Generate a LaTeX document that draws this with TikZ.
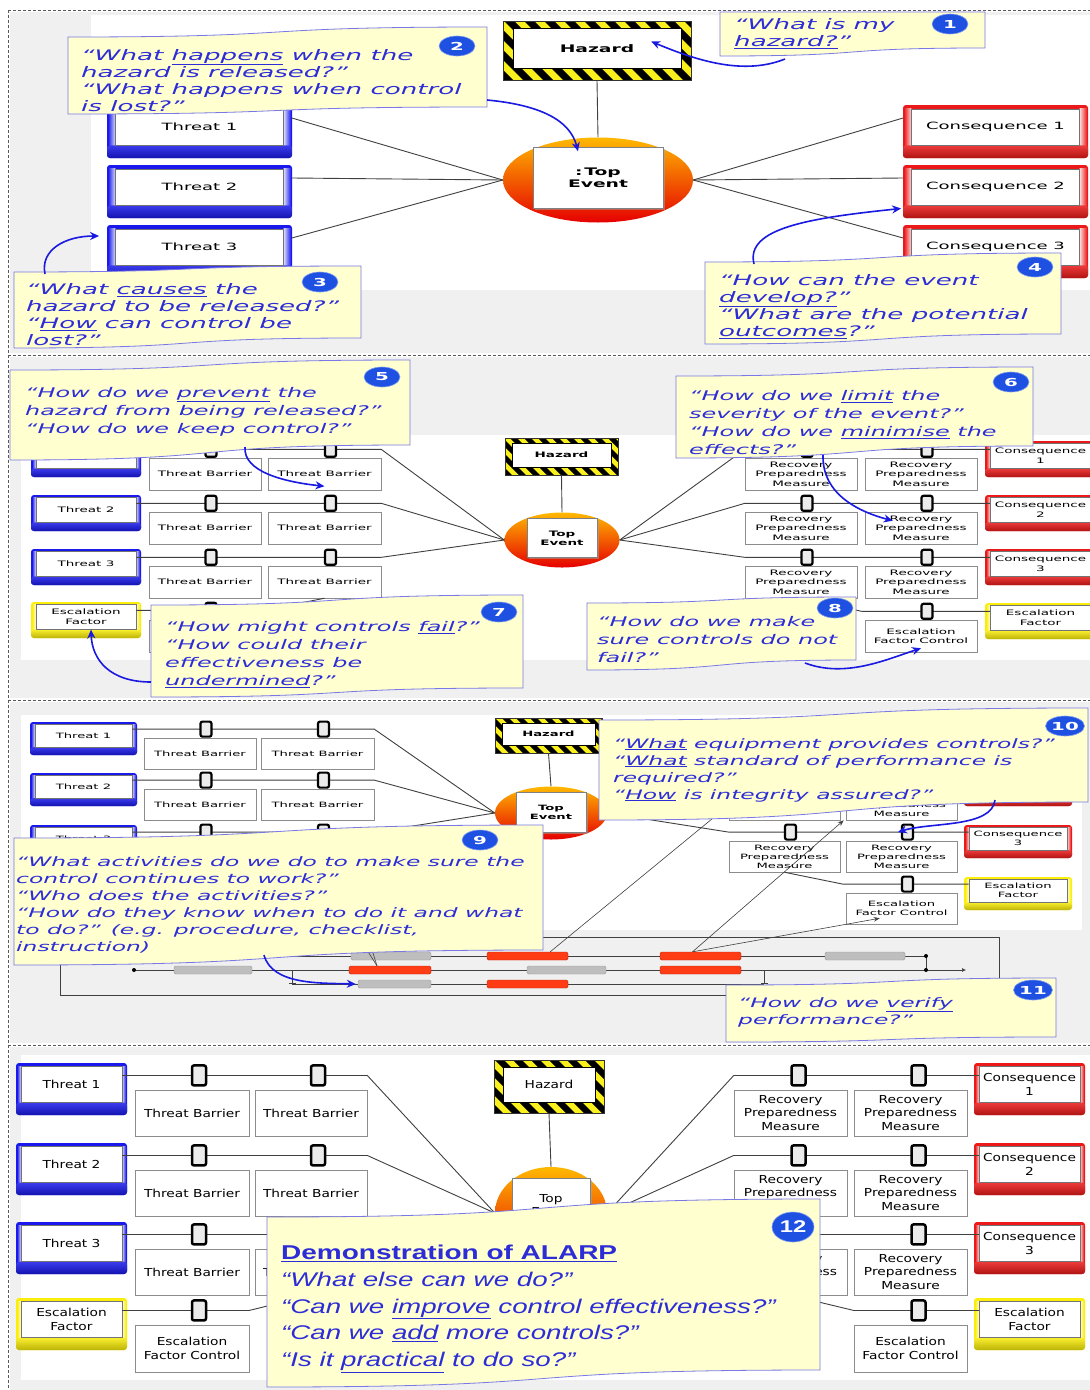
\documentclass[tikz,border=0pt]{standalone}
\usepackage{fontspec}
\usepackage{tikz}
\usetikzlibrary{shapes.geometric,shadows,arrows.meta,calc}
\newfontfamily\widesans[FakeStretch=1.8]{DejaVu Sans}
\newfontfamily\midsans[FakeStretch=1.25]{DejaVu Sans}
\newfontfamily\arialwide[FakeStretch=1.4]{Liberation Sans}

\definecolor{threatblue}{RGB}{25,25,235}
\definecolor{consred}{RGB}{235,25,25}
\definecolor{escyellow}{RGB}{250,238,10}
\definecolor{hazyellow}{RGB}{250,240,30}
\definecolor{notefill}{RGB}{255,255,208}
\definecolor{noteedge}{RGB}{120,120,230}
\definecolor{notetext}{RGB}{45,45,215}
\definecolor{numblue}{RGB}{30,80,225}
\definecolor{arrowblue}{RGB}{25,25,225}
\definecolor{panelgrey}{RGB}{240,240,240}
\definecolor{barred}{RGB}{255,60,20}
\definecolor{bargrey}{RGB}{190,190,190}

\tikzset{
  lbl/.style={font=\widesans\fontsize{7.5}{9.5}\selectfont},
  hazlbl/.style={font=\widesans\bfseries\fontsize{7.5}{9}\selectfont},
  link/.style={draw=black!75, line width=0.9pt},
  thinlink/.style={draw=black!75, line width=0.6pt},
  sepline/.style={draw=black!65, line width=0.8pt, dash pattern=on 3pt off 2pt},
  riskface/.style={draw=black!55, line width=0.4pt, fill=white, inner sep=0pt, align=center, lbl},
  barrierbox/.style={draw=black!45, line width=0.5pt, fill=white, inner sep=0pt, align=center, lbl,
    drop shadow={shadow xshift=1.2pt, shadow yshift=-1.2pt, fill=black!30}},
  hazface/.style={draw=black, line width=0.5pt, fill=white, inner sep=0pt, align=center, hazlbl},
  topring/.style={ellipse, inner sep=0pt, top color=orange!55!yellow, middle color=orange!85!red, bottom color=red!90!black},
  topface/.style={draw=black!50, fill=white, inner sep=0pt, align=center, hazlbl,
    drop shadow={shadow xshift=1.5pt, shadow yshift=-1.5pt, fill=black!35}},
  clipnode/.style={draw=black, line width=2.2pt, fill=black!8, rounded corners=2pt, inner sep=0pt},
  notebox/.style={fill=notefill, draw=noteedge, line width=0.8pt},
  notetxt/.style={text=notetext, align=left, inner sep=0pt, anchor=north west},
  p1font/.style={font=\widesans\itshape\fontsize{14.5}{17}\selectfont},
  p2font/.style={font=\widesans\itshape\fontsize{13.3}{18}\selectfont},
  p3font/.style={font=\widesans\itshape\fontsize{13}{17}\selectfont},
  p4font/.style={font=\arialwide\itshape\fontsize{19.8}{26.7}\selectfont},
  badge/.style={ellipse, fill=numblue, draw=numblue!55!white, line width=0.6pt, text=white, inner sep=0pt,
    minimum width=36pt, minimum height=20pt, font=\widesans\bfseries\fontsize{11}{11}\selectfont},
  notearrow/.style={draw=arrowblue, line width=1.6pt, -{Stealth[length=9pt,width=8pt]}},
  redbar/.style={fill=barred, draw=barred!70!black, line width=0.4pt, rounded corners=1.5pt, minimum height=8pt, inner sep=0pt},
  greybar/.style={fill=bargrey, draw=black!40, line width=0.4pt, rounded corners=1.5pt, minimum height=8pt, inner sep=0pt},
}

% coloured frame (threat, consequence, escalation factor): name, colour, x1, y1, x2, y2, label
\newcommand{\riskbox}[7]{%
  \pgfmathsetmacro\rbs{0.045*((#5)-(#3))}%
  \pgfmathsetmacro\rbt{0.07*((#6)-(#4))}%
  \pgfmathsetmacro\rbb{0.24*((#6)-(#4))}%
  \pgfmathsetmacro\rbw{(#5)-(#3)-2*\rbs}%
  \pgfmathsetmacro\rbh{(#6)-(#4)-\rbt-\rbb}%
  \pgfmathsetmacro\rbx{((#3)+(#5))/2}%
  \pgfmathsetmacro\rby{(#4)+\rbt+\rbh/2}%
  \fill[#2, rounded corners=3pt] (#3,#4) rectangle (#5,#6);
  \shade[left color=#2, right color=#2!15!white] (#3+1,#4+\rbt) rectangle (#3+\rbs,#6-\rbb);
  \shade[left color=#2!15!white, right color=#2] (#5-\rbs,#4+\rbt) rectangle (#5-1,#6-\rbb);
  \shade[top color=#2!85!white, bottom color=#2!75!black, rounded corners=3pt] (#3,#6-\rbb) rectangle (#5,#6);
  \node[riskface, minimum width=\rbw pt, minimum height=\rbh pt] (#1) at (\rbx,\rby) {#7};
}

% striped hazard box: name, x1, y1, x2, y2, border, label
\newcommand{\hazardbox}[7]{%
  \pgfmathtruncatemacro\hza{(#2)-((#5)-(#3))-2*(#6)}%
  \pgfmathtruncatemacro\hzb{\hza+2*(#6)}%
  \pgfmathtruncatemacro\hzc{#4}%
  \fill[hazyellow] (#2,#3) rectangle (#4,#5);
  \begin{scope}
    \clip (#2,#3) rectangle (#4,#5);
    \foreach \s in {\hza,\hzb,...,\hzc}
      \fill[black] (\s,#3) -- ++(#6,0) -- ++(#5-#3,#5-#3) -- ++(-#6,0) -- cycle;
  \end{scope}
  \draw[black!80, line width=0.4pt] (#2,#3) rectangle (#4,#5);
  \pgfmathsetmacro\hzw{(#4)-(#2)-2*(#6)}%
  \pgfmathsetmacro\hzh{(#5)-(#3)-1.9*(#6)}%
  \node[hazface, minimum width=\hzw pt, minimum height=\hzh pt] (#1) at ({((#2)+(#4))/2},{(#3)+0.75*(#6)+\hzh/2}) {#7};
}

% top event: name, cx, cy, ring w, ring h, face w, face h, face dy, label
\newcommand{\topevent}[9]{%
  \node[topring, minimum width=#4pt, minimum height=#5pt] (#1-ring) at (#2,#3) {};
  \node[topface, minimum width=#6pt, minimum height=#7pt] (#1) at (#2,#3+#8) {#9};
}

% barrier box: name, x1, y1, x2, y2, label
\newcommand{\barrier}[6]{%
  \pgfmathsetmacro\bxw{(#4)-(#2)}\pgfmathsetmacro\bxh{(#5)-(#3)}%
  \node[barrierbox, minimum width=\bxw pt, minimum height=\bxh pt] (#1) at ({((#2)+(#4))/2},{((#3)+(#5))/2}) {#6};
}

% callout: x1, x2, top-left y, top-right y, bottom-right y, bottom-left y
\newcommand{\notecloud}[6]{%
  \pgfmathsetmacro\nxa{#1+0.4*(#2-#1)}%
  \pgfmathsetmacro\nxb{#1+0.6*(#2-#1)}%
  \filldraw[notebox] (#1,#3) .. controls (\nxb,#3) and (\nxa,#4) .. (#2,#4) -- (#2,#5)
    .. controls (\nxa,#5) and (\nxb,#6) .. (#1,#6) -- cycle;
}

\begin{document}
\begin{tikzpicture}[x=1pt, y=-1pt]
\useasboundingbox (0,0) rectangle (1090,1390);

% panel backgrounds
\fill[panelgrey] (10,12) rectangle (1090,353);
\fill[white] (91,15) rectangle (1090,290);
\fill[panelgrey] (10,357) rectangle (1090,698);
\fill[white] (21,435) rectangle (1090,660);
\fill[panelgrey] (10,702) rectangle (1090,1043);
\fill[white] (21,715) rectangle (1082,930);
\fill[panelgrey] (10,1047) rectangle (1090,1390);
\fill[white] (21,1055) rectangle (1090,1380);
\draw[sepline] (8,10) -- (1090,10);
\draw[sepline] (8,355) -- (1090,355);
\draw[sepline] (8,700) -- (1090,700);
\draw[sepline] (8,1045) -- (1090,1045);
\draw[sepline] (8,10) -- (8,1390);

% ---------------- panel 1 ----------------
\begin{scope}[lbl/.style={font=\widesans\fontsize{10}{12}\selectfont},
              hazlbl/.style={font=\widesans\bfseries\fontsize{10.4}{12}\selectfont}]
\foreach \k/\ty in {1/105, 2/165, 3/225} {
  \riskbox{p1t\k}{threatblue}{107}{\ty}{292}{\ty+53}{Threat \k}
  \riskbox{p1c\k}{consred}{903}{\ty}{1088}{\ty+53}{Consequence \k}
}
\hazardbox{p1haz}{503}{21}{691}{80}{10}{Hazard}
\topevent{p1top}{598}{180}{190}{85}{130}{61}{-2}{:\,Top\\Event}
\draw[link] ([yshift=-12pt]p1haz.south) -- (p1top-ring.north);
\foreach \k in {1,2,3} {
  \draw[link] ([shift={(8pt,9pt)}]p1t\k.east) -- (p1top-ring.west);
  \draw[link] (p1top-ring.east) -- ([shift={(-8pt,9pt)}]p1c\k.west);
}

% callouts 1-4
\notecloud{720}{985}{12}{12}{48}{56}
\node[notetxt, p1font] (q1) at (734,18) {“What is my\\\underline{hazard?}”};
\node[badge] (b1) at (950,24) {1};
\coordinate (q1tail) at (785,59);
\draw[notearrow] (q1tail) .. controls (745,75) and (700,62) .. ([shift={(-30pt,7pt)}]p1haz.east);

\notecloud{68}{487}{37}{27}{107}{114}
\node[notetxt, p1font] (q2) at (81,49) {“What \underline{happens} when the\\hazard is released?”\\“What happens when control\\is lost?”};
\node[badge] (b2) at (457,46) {2};
\coordinate (q2tail) at (487,100);
\draw[notearrow] (q2tail) .. controls (540,105) and (570,120) .. ([shift={(-20pt,-4pt)}]p1top.north);

\notecloud{14}{361}{272}{266}{338}{348}
\node[notetxt, p1font] (q3) at (26,283) {“What \underline{causes} the\\hazard to be released?”\\“\underline{How} can control be\\lost?”};
\node[badge] (b3) at (320,282) {3};
\coordinate (q3tail) at (45,274);
\draw[notearrow] (q3tail) .. controls (40,250) and (65,236) .. ([shift={(-16pt,11pt)}]p1t3.west);

\notecloud{705}{1061}{262}{253}{334}{344}
\node[notetxt, p1font] (q4) at (719,274) {“How can the event\\\underline{develop?}”\\“What are the potential\\\underline{outcomes}?”};
\node[badge] (b4) at (1035,267) {4};
\coordinate (q4tail) at (754,264);
\draw[notearrow] (q4tail) .. controls (745,228) and (810,218) .. ([shift={(-10pt,-3pt)}]p1c2.south west);
\end{scope}

% ---------------- panel 2 ----------------
\begin{scope}[lbl/.style={font=\widesans\fontsize{7.5}{9.5}\selectfont},
              hazlbl/.style={font=\widesans\bfseries\fontsize{7.5}{9}\selectfont}]
\hazardbox{p2haz}{505}{438}{618}{475}{7}{Hazard}
\topevent{p2top}{562}{540}{115}{55}{70}{39}{-2}{Top\\Event}
\draw[link] ([yshift=-8pt]p2haz.south) -- (p2top-ring.north);
\foreach \k/\ty in {1/441, 2/495, 3/549} {
  \riskbox{p2t\k}{threatblue}{31}{\ty}{141}{\ty+36}{Threat \k}
  \riskbox{p2c\k}{consred}{985}{\ty}{1096}{\ty+36}{Consequence\\\k}
  \coordinate (p2l\k) at ([yshift=-6pt]p2t\k.north east);
  \coordinate (p2m\k) at ([yshift=-6pt]p2c\k.north west);
  \barrier{p2ba\k}{149}{\ty+17}{261}{\ty+49}{Threat Barrier}
  \barrier{p2bb\k}{268}{\ty+17}{381}{\ty+49}{Threat Barrier}
  \barrier{p2ra\k}{745}{\ty+17}{857}{\ty+49}{Recovery\\Preparedness\\Measure}
  \barrier{p2rb\k}{865}{\ty+17}{977}{\ty+49}{Recovery\\Preparedness\\Measure}
}
\riskbox{p2ef}{escyellow}{31}{602}{141}{638}{Escalation\\Factor}
\riskbox{p2eg}{escyellow}{985}{603}{1096}{639}{Escalation\\Factor}
\coordinate (p2le) at ([yshift=-6pt]p2ef.north east);
\coordinate (p2me) at ([yshift=-6pt]p2eg.north west);
\barrier{p2ea}{149}{620}{261}{652}{}% hidden behind callout 7
\barrier{p2eb}{865}{620}{977}{652}{Escalation\\Factor Control}

\foreach \k in {1,2,3} {
  \draw[link] (p2l\k) -- (p2l\k -| p2bb\k.east) -- (p2top-ring.west);
  \draw[link] (p2top-ring.east) -- (p2m\k -| p2ra\k.west) -- (p2m\k);
}
\draw[link] (p2le) -- ($(p2le -| p2ea.east)+(2,0)$) -- (p2bb3.south);
\draw[link] (p2me) -- ($(p2me -| p2eb.west)+(-3,0)$) -- (p2ra3.south);
\foreach \k in {1,2,3} {
  \node[clipnode, minimum width=11pt, minimum height=15pt] (p2ca\k) at ($(p2ba\k.north |- p2l\k)+(6,0)$) {};
  \node[clipnode, minimum width=11pt, minimum height=15pt] (p2cb\k) at ($(p2bb\k.north |- p2l\k)+(6,0)$) {};
  \node[clipnode, minimum width=11pt, minimum height=15pt] (p2cc\k) at ($(p2ra\k.north |- p2m\k)+(6,0)$) {};
  \node[clipnode, minimum width=11pt, minimum height=15pt] (p2cd\k) at ($(p2rb\k.north |- p2m\k)+(6,0)$) {};
}
\node[clipnode, minimum width=11pt, minimum height=15pt] (p2ce) at ($(p2ea.north |- p2le)+(6,0)$) {};
\node[clipnode, minimum width=11pt, minimum height=15pt] (p2cf) at ($(p2eb.north |- p2me)+(6,0)$) {};

% callouts 5-8
\notecloud{10}{410}{370}{360}{445}{460}
\node[notetxt, p2font] (q5) at (25,387) {“How do we \underline{prevent} the\\hazard from being released?”\\“How do we keep control?”};
\node[badge] (b5) at (382,377) {5};
\coordinate (q5tail) at (245,447);
\draw[notearrow] (q5tail) .. controls (243,472) and (285,482) .. ([yshift=4pt]p2bb1.south);

\notecloud{676}{1033}{376}{367}{446}{458}
\node[notetxt, p2font] (q6) at (689,390) {“How do we \underline{limit} the\\severity of the event?”\\“How do we \underline{minimise} the\\effects?”};
\node[badge] (b6) at (1011,382) {6};
\coordinate (q6tail) at (823,455);
\draw[notearrow] (q6tail) .. controls (822,495) and (860,512) .. ([shift={(28pt,-9pt)}]p2rb2.north west);

\notecloud{151}{523}{605}{595}{688}{697}
\node[notetxt, p2font] (q7) at (165,621) {“How might controls \underline{fail}?”\\“How could their\\effectiveness be\\\underline{undermined}?”};
\node[badge] (b7) at (499,612) {7};
\coordinate (q7tail) at (151,682);
\draw[notearrow] (q7tail) .. controls (110,682) and (92,660) .. ([xshift=5pt]p2ef.south);

\notecloud{587}{856}{603}{597}{660}{670}
\node[notetxt, p2font] (q8) at (597,616) {“How do we make\\sure controls do not\\fail?”};
\node[badge] (b8) at (835,608) {8};
\coordinate (q8tail) at (805,663);
\draw[notearrow] (q8tail) .. controls (845,678) and (885,660) .. ([yshift=4pt]p2eb.south);
\end{scope}

% ---------------- panel 3 ----------------
\begin{scope}[lbl/.style={font=\widesans\fontsize{7.3}{9}\selectfont},
              hazlbl/.style={font=\widesans\bfseries\fontsize{7.3}{9}\selectfont}]
\hazardbox{p3haz}{495}{718}{602}{753}{7}{Hazard}
\topevent{p3top}{551}{813}{112}{53}{70}{40}{-1}{Top\\Event}
\draw[link] ([yshift=-8pt]p3haz.south) -- (p3top-ring.north);
\foreach \k/\ty in {1/722, 2/773, 3/825} {
  \riskbox{p3t\k}{threatblue}{30}{\ty}{137}{\ty+33}{Threat \k}
  \coordinate (p3l\k) at ([yshift=-5pt]p3t\k.north east);
}
% boxes hidden behind callouts 9 and 10 are left blank
\barrier{p3ba1}{144}{738}{256}{769}{Threat Barrier}
\barrier{p3bb1}{261}{738}{374}{769}{Threat Barrier}
\barrier{p3ba2}{144}{789}{256}{820}{Threat Barrier}
\barrier{p3bb2}{261}{789}{374}{820}{Threat Barrier}
\barrier{p3ba3}{144}{841}{256}{872}{}
\barrier{p3bb3}{261}{841}{374}{872}{}
\riskbox{p3c1}{consred}{964}{722}{1072}{755}{}
\riskbox{p3c2}{consred}{964}{773}{1072}{806}{}
\riskbox{p3c3}{consred}{964}{825}{1072}{858}{Consequence\\3}
\foreach \k in {1,2,3}
  \coordinate (p3m\k) at ([yshift=-5pt]p3c\k.north west);
\barrier{p3ra1}{729}{738}{840}{769}{}
\barrier{p3rb1}{846}{738}{957}{769}{}
\barrier{p3ra2}{729}{789}{840}{820}{}
\barrier{p3rb2}{846}{789}{957}{820}{Recovery\\Preparedness\\Measure}
\barrier{p3ra3}{729}{841}{840}{872}{Recovery\\Preparedness\\Measure}
\barrier{p3rb3}{846}{841}{957}{872}{Recovery\\Preparedness\\Measure}
\riskbox{p3eg}{escyellow}{964}{877}{1072}{910}{Escalation\\Factor}
\coordinate (p3me) at ([yshift=-5pt]p3eg.north west);
\barrier{p3eb}{846}{893}{957}{924}{Escalation\\Factor Control}

\foreach \k in {1,2,3} {
  \draw[link] (p3l\k) -- (p3l\k -| p3bb\k.east) -- (p3top-ring.west);
  \draw[link] (p3top-ring.east) -- (p3m\k -| p3ra\k.west) -- (p3m\k);
}
\draw[link] (p3me) -- ($(p3me -| p3eb.west)+(-3,0)$) -- (p3ra3.south);
\foreach \k in {1,2,3} {
  \node[clipnode, minimum width=11pt, minimum height=15pt] (p3ca\k) at ($(p3ba\k.north |- p3l\k)+(6,0)$) {};
  \node[clipnode, minimum width=11pt, minimum height=15pt] (p3cb\k) at ($(p3bb\k.north |- p3l\k)+(6,0)$) {};
  \node[clipnode, minimum width=11pt, minimum height=15pt] (p3cc\k) at ($(p3ra\k.north |- p3m\k)+(6,0)$) {};
  \node[clipnode, minimum width=11pt, minimum height=15pt] (p3cd\k) at ($(p3rb\k.north |- p3m\k)+(6,0)$) {};
}
\node[clipnode, minimum width=11pt, minimum height=15pt] (p3cf) at ($(p3eb.north |- p3me)+(6,0)$) {};

% performance schedule
\draw[thinlink] (60,937) rectangle (999,995);
\draw[thinlink] (255,956) -- (926,956);
\draw[thinlink, -{Latex[length=4pt,width=4pt]}] (134,970) -- (966,970);
\fill[black] (134,970) circle (2pt);
\draw[thinlink] (292,984) -- (764,984);
\draw[thinlink, {Bar[width=7pt]}-{Bar[width=7pt]}] (292,970) -- (292,984);
\draw[thinlink, {Bar[width=7pt]}-{Bar[width=7pt]}] (764,970) -- (764,984);
\draw[thinlink] (926,956) -- (926,970);
\fill[black] (926,956) circle (2pt) (926,970) circle (2pt);
\node[greybar, minimum width=80pt] (p3g11) at (391,956) {};
\node[redbar, minimum width=81pt] (p3r11) at (527.5,956) {};
\node[redbar, minimum width=81pt] (p3r12) at (700.5,956) {};
\node[greybar, minimum width=80pt] (p3g12) at (865,956) {};
\node[greybar, minimum width=78pt] (p3g21) at (213,970) {};
\node[redbar, minimum width=82pt] (p3r21) at (390,970) {};
\node[greybar, minimum width=79pt] (p3g22) at (566.5,970) {};
\node[redbar, minimum width=81pt] (p3r22) at (700.5,970) {};
\node[greybar, minimum width=73pt] (p3g31) at (394.5,984) {};
\node[redbar, minimum width=81pt] (p3r31) at (527.5,984) {};
\coordinate (p3hid) at (735,800);
\draw[thinlink] ([xshift=-18pt]p3r11.north east) -- (p3hid);
\draw[thinlink, -{Stealth[length=6pt]}] ([xshift=-8pt]p3r12.north) -- ([xshift=-2pt]p3rb2.south west);
\draw[thinlink, -{Stealth[length=6pt]}] ([xshift=-8pt]p3r12.north) -- ([shift={(34pt,6pt)}]p3eb.south west);
\draw[thinlink] ([xshift=-13pt]p3r21.north) -- (p3bb3.south);
\draw[thinlink] ([xshift=-13pt]p3r21.north) -- ([xshift=30pt]p3bb3.south);

% callouts 9-11
\notecloud{14}{543}{838}{825}{950}{965}
\node[notetxt, p3font] (q9) at (16,856) {“What activities do we do to make sure the\\control continues to work?”\\“Who does the activities?”\\“How do they know when to do it and what\\to do?” (e.g. procedure, checklist,\\instruction)};
\node[badge] (b9) at (480,840) {9};
\coordinate (q9tail) at (264,955);
\draw[notearrow] (q9tail) .. controls (272,985) and (320,983) .. ([xshift=-2pt]p3g31.west);

\notecloud{599}{1088}{720}{708}{802}{820}
\node[notetxt, p3font] (q10) at (613,738) {“\underline{What} equipment provides controls?”\\“\underline{What} standard of performance is\\required?”\\“\underline{How} is integrity assured?”};
\node[badge] (b10) at (1065,726) {10};
\coordinate (q10tail) at (995,800);
\draw[notearrow] (q10tail) .. controls (992,828) and (930,822) .. ([xshift=-3pt]p3cd3.west);

\notecloud{726}{1056}{985}{978}{1037}{1042}
\node[notetxt, p3font] (q11) at (738,997) {“How do we \underline{verify}\\performance?”};
\node[badge] (b11) at (1033,990) {11};
\end{scope}

% ---------------- panel 4 ----------------
\begin{scope}[lbl/.style={font=\midsans\fontsize{11}{13.5}\selectfont},
              hazlbl/.style={font=\midsans\fontsize{11}{13.5}\selectfont}]
\hazardbox{p4haz}{494}{1060}{604}{1113}{9}{Hazard}
\topevent{p4top}{551}{1213}{112}{92}{78}{54}{-8}{Top\\Event}
\draw[link] ([yshift=-10pt]p4haz.south) -- (p4top-ring.north);
\foreach \k/\ty in {1/1063, 2/1143, 3/1222} {
  \riskbox{p4t\k}{threatblue}{16}{\ty}{127}{\ty+52}{Threat \k}
  \riskbox{p4c\k}{consred}{974}{\ty}{1085}{\ty+52}{Consequence\\\k}
  \coordinate (p4l\k) at ([yshift=-9pt]p4t\k.north east);
  \coordinate (p4m\k) at ([yshift=-9pt]p4c\k.north west);
  \barrier{p4ba\k}{135}{\ty+27}{249}{\ty+73}{Threat Barrier}
  \barrier{p4bb\k}{255}{\ty+27}{367}{\ty+73}{Threat Barrier}
  \barrier{p4ra\k}{734}{\ty+27}{847}{\ty+73}{Recovery\\Preparedness\\Measure}
  \barrier{p4rb\k}{854}{\ty+27}{967}{\ty+73}{Recovery\\Preparedness\\Measure}
}
\riskbox{p4ef}{escyellow}{16}{1298}{127}{1350}{Escalation\\Factor}
\riskbox{p4eg}{escyellow}{974}{1298}{1085}{1350}{Escalation\\Factor}
\coordinate (p4le) at ([yshift=-9pt]p4ef.north east);
\coordinate (p4me) at ([yshift=-9pt]p4eg.north west);
\barrier{p4ea}{135}{1325}{249}{1372}{Escalation\\Factor Control}
\barrier{p4eb}{854}{1325}{967}{1372}{Escalation\\Factor Control}

\foreach \k in {1,2,3} {
  \draw[link] (p4l\k) -- (p4l\k -| p4bb\k.east) -- (p4top-ring.west);
  \draw[link] (p4top-ring.east) -- (p4m\k -| p4ra\k.west) -- (p4m\k);
}
\draw[link] (p4le) -- ($(p4le -| p4ea.east)$) -- (p4bb3.south);
\draw[link] (p4me) -- ($(p4me -| p4eb.west)$) -- (p4ra3.south);
\foreach \k in {1,2,3} {
  \node[clipnode, line width=2.5pt, minimum width=14pt, minimum height=20pt] (p4ca\k) at ($(p4ba\k.north |- p4l\k)+(7,0)$) {};
  \node[clipnode, line width=2.5pt, minimum width=14pt, minimum height=20pt] (p4cb\k) at ($(p4bb\k.north |- p4l\k)+(7,0)$) {};
  \node[clipnode, line width=2.5pt, minimum width=14pt, minimum height=20pt] (p4cc\k) at ($(p4ra\k.north |- p4m\k)+(8,0)$) {};
  \node[clipnode, line width=2.5pt, minimum width=14pt, minimum height=20pt] (p4cd\k) at ($(p4rb\k.north |- p4m\k)+(8,0)$) {};
}
\node[clipnode, line width=2.5pt, minimum width=14pt, minimum height=20pt] (p4ce) at ($(p4ea.north |- p4le)+(7,0)$) {};
\node[clipnode, line width=2.5pt, minimum width=14pt, minimum height=20pt] (p4cf) at ($(p4eb.north |- p4me)+(8,0)$) {};

% callout 12
\notecloud{267}{820}{1217}{1199}{1370}{1387}
\node[notetxt, p4font] (q12) at (281,1245) {{\fontsize{20}{26.7}\selectfont\bfseries\upshape\underline{Demonstration of ALARP}}\\“What else can we do?”\\“Can we \underline{improve} control effectiveness?”\\“Can we \underline{add} more controls?”\\“Is it \underline{practical} to do so?”};
\node[badge, minimum width=42pt, minimum height=30pt, font=\arialwide\bfseries\fontsize{17}{17}\selectfont] (b12) at (793,1227) {12};
\end{scope}

\end{tikzpicture}
\end{document}
